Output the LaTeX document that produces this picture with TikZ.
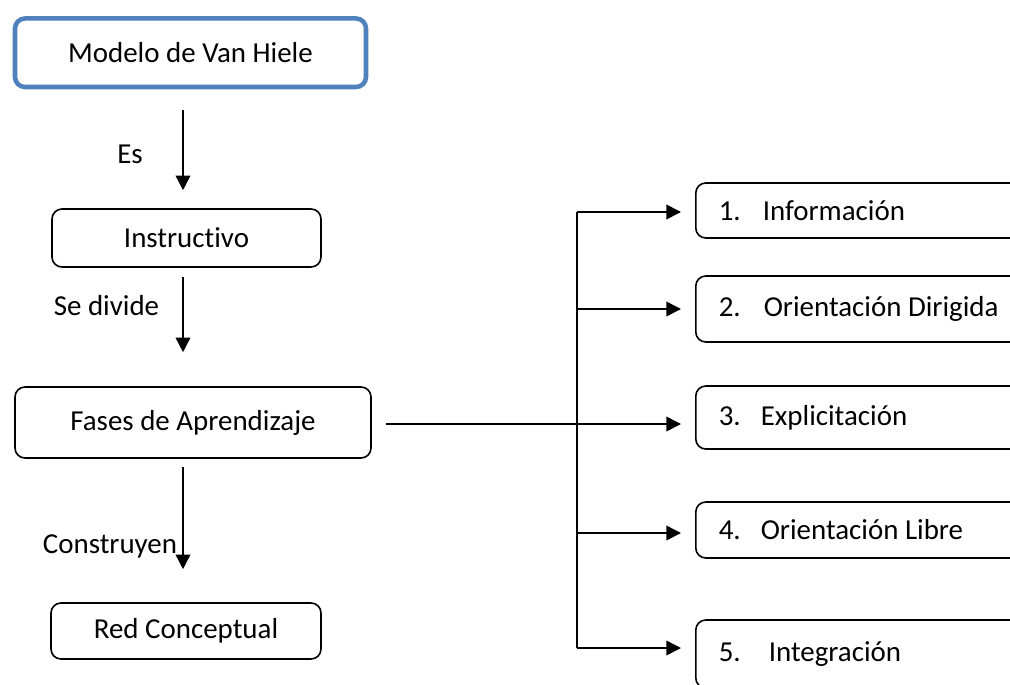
\documentclass[tikz,border=0pt]{standalone}
\usepackage{fontspec}
\setmainfont{Carlito}[Ligatures={NoCommon,NoRare}]
\usetikzlibrary{arrows.meta}
\definecolor{vhblue}{RGB}{79,129,189}
\begin{document}
\begin{tikzpicture}[x=0.75pt,y=-0.75pt,
  every node/.style={font=\fontsize{21.7}{26}\selectfont},
  box/.style={draw=black, line width=1.2pt, rounded corners=7.5pt, inner sep=0pt},
  topbox/.style={box, draw=vhblue, line width=3.4pt},
  phase/.style={box, anchor=west, align=flush left, text width=240pt, inner xsep=17.25pt, inner ysep=0pt},
  lbl/.style={anchor=base, inner sep=0pt},
  link/.style={line width=1.2pt},
  arr/.style={line width=1.2pt, -{Triangle[length=11pt,width=11pt]}}]

% page frame
\useasboundingbox (0,0) rectangle (1010,685);
\fill[white] (0,0) rectangle (1010,685);
\clip (0,0) rectangle (1010,685);

% left column
\node[topbox, minimum width=263.25pt, minimum height=51.4pt] (mvh) at (190.5,52.75) {Modelo de Van Hiele};
\node[box, minimum width=201.75pt, minimum height=43.5pt] (ins) at (186.5,238) {Instructivo};
\node[box, minimum width=267pt, minimum height=53.25pt] (fas) at (193,422.5) {Fases de Aprendizaje};
\node[box, minimum width=202.5pt, minimum height=42pt] (red) at (186,631) {Red Conceptual};

% the five phases
\node[phase, minimum height=41.25pt] (p1) at (695,210.5) {\makebox[33pt][l]{1.}Información};
\node[phase, minimum height=49.5pt] (p2) at (695,309) {\makebox[33.75pt][l]{2.}Orientación Dirigida};
\node[phase, minimum height=47.25pt] (p3) at (695,417.5) {\makebox[31.5pt][l]{3.}Explicitación};
\node[phase, minimum height=42pt] (p4) at (695,530) {\makebox[31.5pt][l]{4.}Orientación Libre};
\node[phase, minimum height=51pt] (p5) at (695,654) {\makebox[37.5pt][l]{5.}Integración};

% vertical links with their labels
\coordinate (axis) at (183,0);
\draw[arr, shorten <=15.75pt, shorten >=13.5pt] (mvh.south -| axis) -- (ins.north -| axis);
\draw[arr, shorten <=6.75pt, shorten >=25.5pt] (ins.south -| axis) -- (fas.north -| axis);
\draw[arr, shorten <=6pt, shorten >=24.75pt] (fas.south -| axis) -- (red.north -| axis);
\node[lbl] (es) at (130,163) {Es};
\node[lbl] (sed) at (106.5,315) {Se divide};
\node[lbl] (con) at (110,553) {Construyen};

% branching to the phases
\coordinate (j1) at (577,212);
\coordinate (j2) at (577,309);
\coordinate (j3) at (577,424);
\coordinate (j4) at (577,533);
\coordinate (j5) at (577,648);
\draw[link] (j1) -- (j5);
\draw[arr, shorten <=10.5pt, shorten >=10.5pt] (fas.east |- j3) -- (j3 -| p3.west);
\draw[arr, shorten >=10.5pt] (j1) -- (j1 -| p1.west);
\draw[arr, shorten >=10.5pt] (j2) -- (j2 -| p2.west);
\draw[arr, shorten >=10.5pt] (j4) -- (j4 -| p4.west);
\draw[arr, shorten >=10.5pt] (j5) -- (j5 -| p5.west);
\end{tikzpicture}
\end{document}
